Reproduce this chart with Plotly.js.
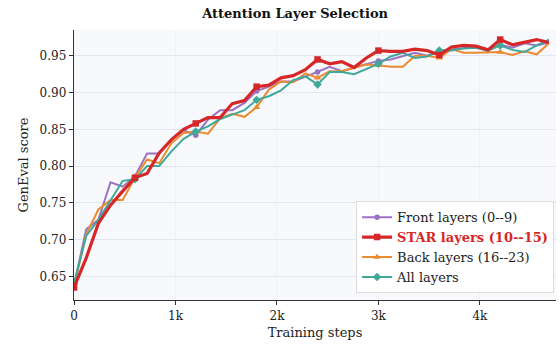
<!DOCTYPE html>
<html>
<head>
<meta charset="utf-8">
<script src="https://cdn.plot.ly/plotly-3.0.1.min.js"></script>
<style>html,body{margin:0;padding:0;background:#fff;}#chart{width:560px;height:347px;}</style>
</head>
<body>
<div id="chart"></div>
<script>
// Training steps (every 120 steps)
const steps = [0,120,240,360,480,600,720,840,960,1080,1200,1320,1440,1560,1680,1800,1920,2040,2160,2280,2400,2520,2640,2760,2880,3000,3120,3240,3360,3480,3600,3720,3840,3960,4080,4200,4320,4440,4560,4680];

const frontLayers = [0.638,0.714,0.727,0.778,0.772,0.786,0.817,0.817,0.836,0.849,0.842,0.863,0.876,0.876,0.886,0.902,0.908,0.915,0.915,0.921,0.928,0.935,0.929,0.934,0.939,0.943,0.945,0.949,0.954,0.950,0.956,0.959,0.961,0.962,0.959,0.965,0.961,0.967,0.964,0.968];
const starLayers  = [0.635,0.675,0.722,0.747,0.766,0.784,0.790,0.818,0.836,0.850,0.858,0.866,0.866,0.885,0.889,0.908,0.910,0.920,0.923,0.931,0.945,0.939,0.942,0.934,0.947,0.957,0.956,0.956,0.959,0.957,0.951,0.962,0.964,0.963,0.958,0.972,0.965,0.969,0.972,0.968];
const backLayers  = [0.637,0.707,0.741,0.754,0.754,0.784,0.809,0.804,0.831,0.845,0.847,0.844,0.865,0.871,0.867,0.880,0.904,0.915,0.914,0.926,0.920,0.929,0.929,0.934,0.938,0.937,0.935,0.935,0.950,0.950,0.947,0.959,0.954,0.954,0.955,0.955,0.951,0.956,0.952,0.967];
const allLayers   = [0.640,0.705,0.727,0.754,0.780,0.782,0.800,0.800,0.820,0.837,0.847,0.854,0.864,0.870,0.876,0.890,0.895,0.903,0.917,0.922,0.911,0.928,0.928,0.925,0.932,0.939,0.949,0.954,0.947,0.949,0.957,0.957,0.960,0.961,0.957,0.964,0.958,0.955,0.964,0.972];

const seriesNames = ['Front layers (0--9)','STAR layers (10--15)','Back layers (16--23)','All layers'];
const yTickVals = [0.65,0.70,0.75,0.80,0.85,0.90,0.95];
const xTickVals = [0,1000,2000,3000,4000];
const xTickText = ['0','1k','2k','3k','4k'];

// markers shown on every 5th point
function markColors(c){ return steps.map((_, i) => (i % 5 === 0 ? c : 'rgba(0,0,0,0)')); }

const colors = ['#9b72c2','#d62728','#ec8a2f','#3fa898'];
const symbols = ['circle','square','triangle-up','diamond'];
const widths = [2,3.2,2,2];
const msz = [5.5,6.5,6.5,6.5];
const data = [frontLayers, starLayers, backLayers, allLayers];

const traces = [0,1,2,3].map(k => ({
  x: steps, y: data[k], type: 'scatter', mode: 'lines+markers',
  name: k === 1 ? '<b><span style="color:#d62728">' + seriesNames[k] + '</span></b>' : seriesNames[k],
  line: {color: colors[k], width: widths[k]},
  marker: {color: markColors(colors[k]), symbol: symbols[k], size: msz[k], line: {width: 0}},
  legendrank: k + 1
}));
const plotTraces = [traces[0], traces[2], traces[3], traces[1]];

const layout = {
  width: 560, height: 347,
  margin: {l: 74, r: 4, t: 30, b: 47},
  paper_bgcolor: '#ffffff',
  plot_bgcolor: '#f8f9fc',
  font: {family: 'DejaVu Serif, serif', color: '#222', size: 12},
  title: {text: '<b>Attention Layer Selection</b>', font: {family: 'DejaVu Serif, serif', size: 13, color: '#111'}, x: 0.527, xanchor: 'center', y: 0.96, yanchor: 'middle'},
  xaxis: {
    range: [0, 4750], tickvals: xTickVals, ticktext: xTickText,
    showline: true, linecolor: '#333', linewidth: 1.3,
    ticks: 'outside', ticklen: 4, tickcolor: '#333', tickwidth: 1,
    showgrid: true, gridcolor: '#eceef4', gridwidth: 0.8, zeroline: false,
    tickfont: {size: 12, color: '#222'},
    title: {text: 'Training steps', font: {size: 13, color: '#222'}, standoff: 6}
  },
  yaxis: {
    range: [0.618, 0.985], tickvals: yTickVals, tickformat: '.2f',
    showline: true, linecolor: '#333', linewidth: 1.3,
    ticks: 'outside', ticklen: 4, tickcolor: '#333', tickwidth: 1,
    showgrid: true, gridcolor: '#e3e6ee', gridwidth: 1, zeroline: false,
    tickfont: {size: 12, color: '#222'},
    title: {text: 'GenEval score', font: {size: 13, color: '#222'}, standoff: 8}
  },
  legend: {
    x: 0.996, y: 0.025, xanchor: 'right', yanchor: 'bottom',
    bgcolor: 'rgba(255,255,255,0.9)', bordercolor: '#dcdcdc', borderwidth: 1,
    font: {size: 13, color: '#222'}, traceorder: 'normal', itemwidth: 30,
    tracegroupgap: 0
  },
  showlegend: true
};

Plotly.newPlot('chart', plotTraces, layout, {displayModeBar: false, staticPlot: true});
</script>
</body>
</html>
